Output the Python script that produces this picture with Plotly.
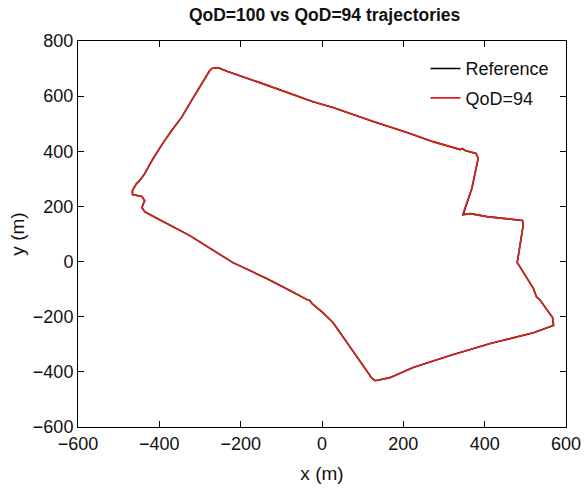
import plotly.graph_objects as go

# Trajectory of the reference run (QoD=100), in metres
ref_x = [-276, -271, -256, -232, -153, -54, -22, 27, 69, 126, 209, 273, 340, 345, 352, 365, 379,
         384, 377, 369, 347, 365, 406, 493, 495, 480, 488, 520, 527, 537, 567, 569, 520, 414, 315,
         224, 167, 143, 131, 123, 101, 76, 52, 27, 2, -25, -30, -37, -79, -135, -219, -276, -325,
         -419, -436, -443, -436, -443, -466, -466, -456, -448, -436, -416, -392, -369, -345, -318,
         -288, -276]
ref_y = [693, 700, 704, 689, 649, 598, 580, 559, 537, 508, 468, 435, 406, 410, 403, 399, 392,
         374, 323, 268, 170, 174, 163, 149, 134, -4, -22, -98, -127, -141, -203, -232, -258, -297, -341,
         -384, -421, -428, -432, -424, -377, -323, -276, -221, -185, -152, -141, -138, -105, -62, -4, 47, 94,
         167, 181, 196, 221, 236, 243, 258, 283, 294, 319, 372, 428, 476, 524, 591,
         664, 693]

# Trajectory reconstructed at QoD=94
q94_x = [-276, -271, -257, -232, -153, -54, -22, 27, 69, 126, 209, 273, 340, 346, 352, 365, 379,
         384, 377, 369, 346, 365, 406, 493, 495, 480, 488, 520, 527, 537, 567, 570, 520, 414, 315,
         224, 167, 143, 131, 123, 101, 76, 52, 27, 2, -25, -30, -37, -79, -135, -219, -276, -325,
         -419, -436, -443, -436, -443, -466, -466, -456, -448, -436, -416, -392, -369, -345, -318,
         -288, -276]
q94_y = [693, 700, 703, 689, 649, 598, 580, 559, 537, 508, 468, 435, 406, 409, 403, 399, 392,
         374, 323, 268, 171, 174, 163, 149, 134, -4, -22, -98, -127, -141, -203, -231, -258, -297, -341,
         -384, -421, -428, -432, -424, -377, -323, -276, -221, -185, -152, -141, -138, -105, -62, -4, 47, 94,
         167, 181, 196, 221, 236, 243, 258, 283, 294, 319, 372, 428, 476, 524, 591,
         664, 693]

x_ticks = [-600, -400, -200, 0, 200, 400, 600]
y_ticks = [-600, -400, -200, 0, 200, 400, 600, 800]
FONT = "Liberation Sans, Arial, sans-serif"

fig = go.Figure()
fig.add_trace(go.Scatter(x=ref_x, y=ref_y, mode="lines", name="Reference", legendgroup="a",
                         line=dict(color="#000000", width=1.6)))
fig.add_trace(go.Scatter(x=q94_x, y=q94_y, mode="lines", name="QoD=94", legendgroup="b",
                         line=dict(color="#d9261c", width=1.6)))

axis_common = dict(showline=True, linecolor="black", linewidth=1, mirror="ticks",
                   ticks="inside", ticklen=6, tickcolor="black", showgrid=False,
                   zeroline=False, automargin=False,
                   tickfont=dict(family=FONT, size=18, color="#111111"))

fig.update_layout(
    width=587, height=489,
    margin=dict(l=78, r=21, t=41, b=62),
    paper_bgcolor="white", plot_bgcolor="white",
    title=dict(text="<b>QoD=100 vs QoD=94 trajectories</b>", x=0.553, xanchor="center",
               y=0.969, yanchor="middle", font=dict(family=FONT, size=17.5, color="#111111")),
    xaxis=dict(range=[-600, 600], tickvals=x_ticks,
               title=dict(text="x (m)", font=dict(family=FONT, size=19, color="#111111"), standoff=14),
               **axis_common),
    yaxis=dict(range=[-600, 800], tickvals=y_ticks,
               title=dict(text="y (m)", font=dict(family=FONT, size=19, color="#111111"), standoff=3),
               **axis_common),
    legend=dict(x=0.712, y=0.976, xanchor="left", yanchor="top", bgcolor="rgba(0,0,0,0)",
                traceorder="grouped", tracegroupgap=3,
                font=dict(family=FONT, size=18, color="#111111")),
    showlegend=True,
)

fig.write_html("out.html")
